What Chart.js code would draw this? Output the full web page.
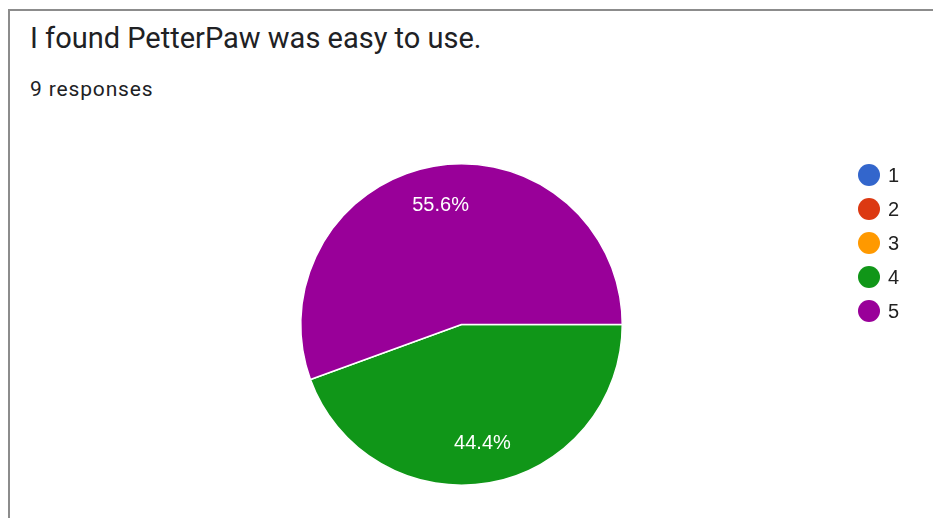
<!DOCTYPE html>
<html>
<head>
<meta charset="utf-8">
<script src="https://cdn.jsdelivr.net/npm/chart.js@4.4.1/dist/chart.umd.min.js"></script>
<style>
  html, body { margin: 0; padding: 0; background: #fff; }
  #wrap { position: relative; width: 933px; height: 518px; overflow: hidden; }
  #box {
    position: absolute; left: 8px; top: 9px; width: 1000px; height: 600px;
    border-left: 2px solid #8c8c8c; border-top: 2px solid #8c8c8c;
  }
  #title {
    position: absolute; left: 30px; top: 21px;
    font-family: Roboto, Arial, sans-serif; font-size: 29px; color: #202124;
  }
  #sub {
    position: absolute; left: 30px; top: 77px;
    font-family: Roboto, Arial, sans-serif; font-size: 21px; letter-spacing: 0.85px; color: #202124;
  }
  #chartBox { position: absolute; left: 0; top: 0; width: 933px; height: 518px; }
</style>
</head>
<body>
<div id="wrap">
  <div id="box"></div>
  <div id="title">I found PetterPaw was easy to use.</div>
  <div id="sub">9 responses</div>
  <div id="chartBox"><canvas id="pie"></canvas></div>
</div>
<script>
// answers on the 1-5 scale and how many people picked each
const labels = ['1', '2', '3', '4', '5'];
const counts = [0, 0, 0, 4, 5];
const colors = ['#3366cc', '#dc3912', '#ff9900', '#109618', '#990099'];

// percent text inside each slice
const sliceLabels = {
  id: 'sliceLabels',
  afterDatasetsDraw(chart) {
    const ctx = chart.ctx;
    const meta = chart.getDatasetMeta(0);
    const total = counts.reduce((a, b) => a + b, 0);
    ctx.save();
    ctx.fillStyle = '#ffffff';
    ctx.font = '20px "Liberation Sans", Arial, sans-serif';
    ctx.textAlign = 'center';
    ctx.textBaseline = 'middle';
    meta.data.forEach((arc, i) => {
      if (!counts[i]) return;
      const mid = (arc.startAngle + arc.endAngle) / 2;
      const r = arc.outerRadius * 0.75;
      const pct = (counts[i] / total * 100).toFixed(1) + '%';
      ctx.fillText(pct, arc.x + Math.cos(mid) * r, arc.y + Math.sin(mid) * r);
    });
    ctx.restore();
  }
};

// legend on the right, dots + numbers
const sideLegend = {
  id: 'sideLegend',
  afterDraw(chart) {
    const ctx = chart.ctx;
    ctx.save();
    ctx.font = '20px "Liberation Sans", Arial, sans-serif';
    ctx.textBaseline = 'middle';
    ctx.textAlign = 'left';
    labels.forEach((lab, i) => {
      const y = 175 + i * 34;
      ctx.beginPath();
      ctx.arc(869, y, 11, 0, Math.PI * 2);
      ctx.fillStyle = colors[i];
      ctx.fill();
      ctx.fillStyle = '#222222';
      ctx.fillText(lab, 888, y + 1);
    });
    ctx.restore();
  }
};

new Chart(document.getElementById('pie'), {
  type: 'pie',
  data: {
    labels: labels,
    datasets: [{
      data: counts,
      backgroundColor: colors,
      borderColor: '#ffffff',
      borderWidth: 1.5
    }]
  },
  options: {
    responsive: true,
    maintainAspectRatio: false,
    animation: false,
    rotation: 90,
    layout: { padding: { left: 300, right: 310, top: 163, bottom: 32 } },
    plugins: {
      legend: { display: false },
      tooltip: { enabled: false }
    }
  },
  plugins: [sliceLabels, sideLegend]
});
</script>
</body>
</html>
